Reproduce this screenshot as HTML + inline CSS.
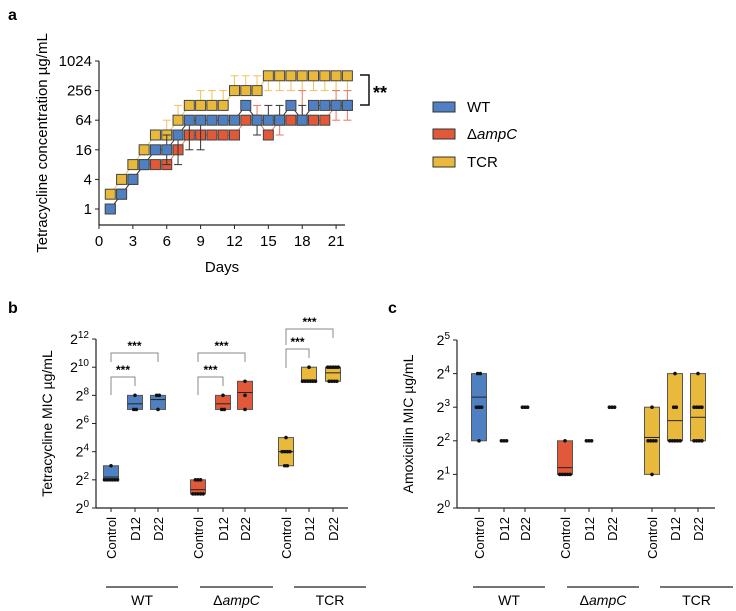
<!DOCTYPE html>
<html><head><meta charset="utf-8"><style>
body{margin:0;background:#fff;}
svg{display:block;font-family:"Liberation Sans",Arial,sans-serif;}
</style></head><body>
<svg id="fig" width="736" height="611" viewBox="0 0 736 611"></svg>
<script>
// ---------- Panel a data ----------
const days = [1,2,3,4,5,6,7,8,9,10,11,12,13,14,15,16,17,18,19,20,21,22];
const aTicks = [1,4,16,64,256,1024];
const xTicksA = [0,3,6,9,12,15,18,21];
const wtVals  = [1,2,4,8,16,16,32,64,64,64,64,64,128,64,64,64,128,64,128,128,128,128];
const wtHi    = [0,0,0,0,0,1,0,0,0,0,0,0,0,0,1,1,0,1,0,0,0,0];
const wtLo    = [0,0,0,0,0,1,2,2,2,0,0,0,0,1,0,0,0,0,0,0,0,0];
const amVals  = [1,2,4,8,8,8,16,32,32,32,32,32,64,64,32,64,64,64,64,64,128,128];
const amHi    = [0,0,0,0,0,0,0,0,0,0,0,0,0,1,0,0,0,2,0,0,1,1];
const amLo    = [0,0,0,0,0,0,0,0,0,0,0,0,0,0,0,1,0,0,0,0,1,1];
const tcVals  = [2,4,8,16,32,32,64,128,128,128,128,256,256,256,512,512,512,512,512,512,512,512];
const tcHi    = [0,0,0,0,0,1,1,0,1,1,1,1,1,1,0,0,0,0,0,0,0,0];
const tcLo    = [0,0,0,0,0,0,0,0,0,0,0,0,0,0,1,1,1,1,1,1,1,1];
// ---------- Panel b data (log2) ----------
const bCats = ["Control","D12","D22","Control","D12","D22","Control","D12","D22"];
const bMin  = [2,7,7,1,7,7,3,9,9];
const bMax  = [3,8,8,2,8,9,5,10,10];
const bMid  = [2.2,7.4,7.7,1.3,7.4,8.2,4,9.1,9.6];
const bPts  = [[3,2,2,2,2,2,2],[8,7,7],[8,8,7],[2,2,2,1,1,1,1,1],[8,7,7],[9,8,7],[5,4,4,4,4,3,3],[10,9,9,9,9,9,9],[10,10,10,10,10,9,9,9,9]];
const bTicks = [0,2,4,6,8,10,12];
// ---------- Panel c data (log2) ----------
const cMin  = [2,null,null,1,null,null,1,2,2];
const cMax  = [4,null,null,2,null,null,3,4,4];
const cMid  = [3.3,null,null,1.2,null,null,2.1,2.6,2.7];
const cPts  = [[4,4,3,3,3,2],[2,2,2],[3,3,3],[2,1,1,1,1,1],[2,2,2],[3,3,3],[3,2,2,2,2,1],[4,3,3,2,2,2,2,2],[4,3,3,3,3,2,2,2,2]];
const cTicks = [0,1,2,3,4,5];
const groups = ["WT","ΔampC","TCR"];

const NS="http://www.w3.org/2000/svg";
const svg=document.getElementById('fig');
function el(tag,attrs,parent,text){const e=document.createElementNS(NS,tag);for(const k in attrs)e.setAttribute(k,attrs[k]);if(text!==undefined)e.textContent=text;(parent||svg).appendChild(e);return e;}
const BLUE="#4f80c2",RED="#e2593a",YEL="#e9b93c";
const colors=[BLUE,BLUE,BLUE,RED,RED,RED,YEL,YEL,YEL];

// ===== Panel a =====
const ga=el('g',{});

const lab=el('text',{x:8,y:20,'font-size':16,'font-weight':'bold'},ga,'a');

const ax=d=>99+d*11.29;
const ay=v=>209-Math.log2(v)*14.8;
const ayl=l=>209-l*14.8;
el('line',{x1:99,y1:61,x2:99,y2:225,stroke:'#222','stroke-width':1.2},ga);
el('line',{x1:99,y1:225,x2:345,y2:225,stroke:'#222','stroke-width':1.2},ga);
aTicks.forEach(t=>{const y=ay(t);el('line',{x1:95,y1:y,x2:99,y2:y,stroke:'#222'},ga);
 const tx=el('text',{x:92,y:y+5,'font-size':15,'text-anchor':'end'},ga,String(t));});
xTicksA.forEach(t=>{const x=ax(t);el('line',{x1:x,y1:225,x2:x,y2:229,stroke:'#222'},ga);
 const tx=el('text',{x:x,y:246,'font-size':15,'text-anchor':'middle'},ga,String(t));});
const xt=el('text',{x:222,y:272,'font-size':15,'text-anchor':'middle'},ga,'Days');

const yt=el('text',{x:0,y:0,'font-size':15,'text-anchor':'middle',transform:'translate(47,143) rotate(-90)'},ga,'Tetracycline concentration µg/mL');

function series(vals,hi,lo,col,line,name){
 const g=el('g',{},ga);
 days.forEach((d,i)=>{const l=Math.log2(vals[i]);const x=ax(d);
  if(hi[i]){const y2=ayl(l+hi[i]);el('line',{x1:x,y1:ay(vals[i]),x2:x,y2:y2,stroke:line,'stroke-width':1},g);el('line',{x1:x-4,y1:y2,x2:x+4,y2:y2,stroke:line},g);}
  if(lo[i]){const y2=ayl(l-lo[i]);el('line',{x1:x,y1:ay(vals[i]),x2:x,y2:y2,stroke:line,'stroke-width':1},g);el('line',{x1:x-4,y1:y2,x2:x+4,y2:y2,stroke:line},g);}
 });
 el('polyline',{points:days.map((d,i)=>ax(d)+','+ay(vals[i])).join(' '),fill:'none',stroke:line,'stroke-width':1},g);
 days.forEach((d,i)=>{const r=el('rect',{x:ax(d)-5,y:ay(vals[i])-5,width:10,height:10,fill:col,stroke:'#444','stroke-width':1},g);
  });
}
series(tcVals,tcHi,tcLo,YEL,'#eec25a','tcr');
series(amVals,amHi,amLo,RED,'#e9785e','ampc');
series(wtVals,wtHi,wtLo,BLUE,'#333','wt');
const br=el('polyline',{points:'360,75 369,75 369,105 360,105',fill:'none',stroke:'#111','stroke-width':1.5},ga);

const st=el('text',{x:373,y:99,'font-size':18,'font-weight':'bold'},ga,'**');

[["WT",BLUE,107,false],["ΔampC",RED,134,true],["TCR",YEL,162,false]].forEach(([t,c,y,it])=>{
 const g=el('g',{},ga);
 el('rect',{x:433,y:y-5,width:22,height:10,fill:c,stroke:'#333','stroke-width':1},g);
 const tx=el('text',{x:467,y:y+5,'font-size':15},g);
 if(it){el('tspan',{},tx,'Δ');el('tspan',{'font-style':'italic'},tx,'ampC');}else tx.textContent=t;
});

// ===== Box panels =====
function boxPanel(opts){
 const g=el('g',{});
 const L=el('text',{x:opts.labX,y:313,'font-size':16,'font-weight':'bold'},g,opts.label);
 
 const y=v=>opts.y0-v*opts.unit;
 el('line',{x1:opts.ax,y1:y(opts.ticks[opts.ticks.length-1]),x2:opts.ax,y2:opts.y0,stroke:'#222','stroke-width':1.2},g);
 el('line',{x1:opts.ax,y1:opts.y0,x2:opts.axEnd,y2:opts.y0,stroke:'#222','stroke-width':1.2},g);
 opts.ticks.forEach(t=>{const yy=y(t);el('line',{x1:opts.ax-4,y1:yy,x2:opts.ax,y2:yy,stroke:'#222'},g);
  const tx=el('text',{x:opts.ax-7,y:yy+5,'font-size':14,'text-anchor':'end'},g);
  
  el('tspan',{},tx,'2');el('tspan',{dy:-6,'font-size':10},tx,String(t));});
 const yt=el('text',{x:0,y:0,'font-size':14,'text-anchor':'middle',transform:`translate(${opts.ax-44},${(opts.y0+y(opts.ticks[opts.ticks.length-1]))/2}) rotate(-90)`},g,opts.title);
 
 bCats.forEach((c,i)=>{const x=opts.xs[i];
  el('line',{x1:x,y1:opts.y0,x2:x,y2:opts.y0+4,stroke:'#222'},g);
  const tx=el('text',{x:0,y:0,'font-size':13,'text-anchor':'end',transform:`translate(${x+5},${opts.y0+9}) rotate(-90)`},g,c);
  
  if(opts.min[i]!==null){
   const b=el('rect',{x:x-7.5,y:y(opts.max[i]),width:15,height:(opts.max[i]-opts.min[i])*opts.unit,fill:colors[i],stroke:'#555','stroke-width':1},g);
   
   el('line',{x1:x-7.5,y1:y(opts.mid[i]),x2:x+7.5,y2:y(opts.mid[i]),stroke:'#222','stroke-width':1},g);
  }
  const counts={};opts.pts[i].forEach(v=>counts[v]=(counts[v]||0)+1);
  Object.keys(counts).forEach(k=>{const n=counts[k];for(let j=0;j<n;j++){const dx=(j-(n-1)/2)*2.6;
   const d=el('circle',{cx:x+dx,cy:y(+k),r:1.8,fill:'#111'},g);}});
 });
 groups.forEach((gn,k)=>{const [a,b]=opts.groupX[k];
  el('line',{x1:a,y1:587,x2:b,y2:587,stroke:'#222','stroke-width':1.2},g);
  const tx=el('text',{x:(a+b)/2,y:605,'font-size':14,'text-anchor':'middle'},g);
  
  if(k===1){el('tspan',{},tx,'Δ');el('tspan',{'font-style':'italic'},tx,'ampC');}else tx.textContent=gn;});
 return g;
}
const gb=boxPanel({name:'panel-b',label:'b',labX:8,ax:96,axEnd:348,y0:508,unit:14.08,ticks:bTicks,
 xs:[111,135,158,198,223,245,286,309,333],min:bMin,max:bMax,mid:bMid,pts:bPts,
 title:'Tetracycline MIC µg/mL',groupX:[[106,178],[200,273],[294,366]]});
const gc=boxPanel({name:'panel-c',label:'c',labX:388,ax:457,axEnd:715,y0:508,unit:33.6,ticks:cTicks,
 xs:[479,504,525,565,589,612,652,675,698],min:cMin,max:cMax,mid:cMid,pts:cPts,
 title:'Amoxicillin MIC  µg/mL',groupX:[[473,545],[567,639],[660,733]]});
[[111,135,377,395,386],[111,158,353,362,362],[198,223,377,395,386],[198,245,353,362,362],[286,309,349,368,358],[286,333,329,345,338]].forEach(([x1,x2,top,l1,l2])=>{
 const p=el('polyline',{points:`${x1},${l1} ${x1},${top} ${x2},${top} ${x2},${l2}`,fill:'none',stroke:'#888','stroke-width':1},gb);
 
 const t=el('text',{x:(x1+x2)/2,y:top-3,'font-size':12,'font-weight':'bold','text-anchor':'middle'},gb,'***');
 
});
</script>
</body></html>
